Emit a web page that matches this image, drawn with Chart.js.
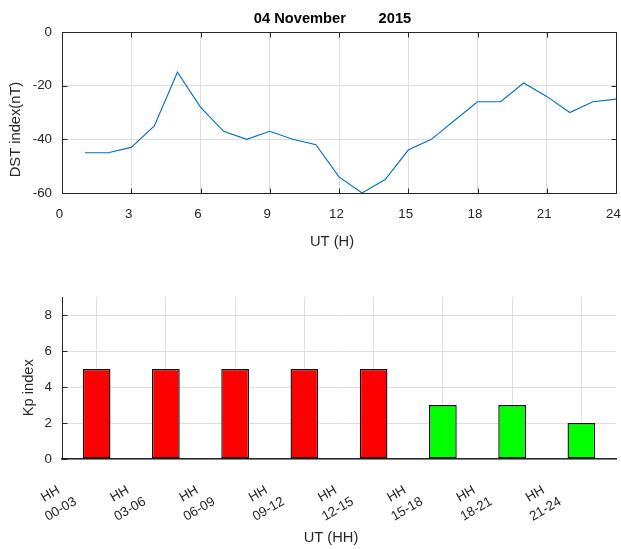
<!DOCTYPE html>
<html>
<head>
<meta charset="utf-8">
<title>Dst and Kp indices, 04 November 2015</title>
<script src="https://cdn.jsdelivr.net/npm/chart.js@4.4.1/dist/chart.umd.min.js"></script>
<style>
  html, body { margin: 0; padding: 0; background: #ffffff; }
  #wrap { position: relative; width: 621px; height: 549px; overflow: hidden; background: #ffffff; }
  #wrap canvas { position: absolute; left: 0; }
</style>
</head>
<body>
<div id="wrap">
  <canvas id="dstChart" width="621" height="270" style="top:0px"></canvas>
  <canvas id="kpChart" width="621" height="279" style="top:270px"></canvas>
</div>
<script>
// Hourly Dst index (nT) for the day
const dstHours  = [1, 2, 3, 4, 5, 6, 7, 8, 9, 10, 11, 12, 13, 14, 15, 16, 17, 18, 19, 20, 21, 22, 23, 24];
const dstValues = [-45, -45, -43, -35, -15, -28, -37, -40, -37, -40, -42, -54, -60, -55, -44, -40, -33, -26, -26, -19, -24, -30, -26, -25];

// Three-hourly Kp index
const kpRanges = ['00-03', '03-06', '06-09', '09-12', '12-15', '15-18', '18-21', '21-24'];
const kpValues = [5, 5, 5, 5, 5, 3, 3, 2];

// Text
const dayTitle   = '04 November        2015';
const dstYLabel  = 'DST index(nT)';
const dstXLabel  = 'UT (H)';
const kpYLabel   = 'Kp index';
const kpXLabel   = 'UT (HH)';
const kpTickHead = 'HH';

const FONT = '"Liberation Sans", Arial, Helvetica, sans-serif';
const AXIS_COLOR = '#262626';
const GRID_COLOR = '#dfdfdf';
const TICK_SIZE = 13.3;
const LABEL_SIZE = 14.7;

Chart.defaults.font.family = FONT;
Chart.defaults.color = AXIS_COLOR;

// storm levels: red for Kp >= 5, yellow for 4, green below
function kpColor(v) {
  if (v >= 5) return '#ff0000';
  if (v >= 4) return '#ffff00';
  return '#00ff00';
}

const crisp = v => Math.round(v) + 0.5;

// Inward tick marks, optional closed box, and free-standing labels
const axesFrame = {
  id: 'axesFrame',
  afterDraw(chart, args, opts) {
    const { ctx, chartArea: a } = chart;
    const xs = chart.scales.x, ys = chart.scales.y;
    const L = opts.tickLen || 5;
    ctx.save();
    ctx.strokeStyle = AXIS_COLOR;
    ctx.lineWidth = 1;
    ctx.beginPath();
    const l = crisp(a.left), r = crisp(a.right), t = crisp(a.top), b = crisp(a.bottom);
    if (opts.box) {
      ctx.moveTo(l, t); ctx.lineTo(r, t); ctx.lineTo(r, b); ctx.lineTo(l, b); ctx.closePath();
    }
    if (opts.xTicks) {
      xs.ticks.forEach(tk => {
        const x = crisp(xs.getPixelForValue(tk.value));
        ctx.moveTo(x, b); ctx.lineTo(x, b - L);
        if (opts.box) { ctx.moveTo(x, t); ctx.lineTo(x, t + L); }
      });
    }
    if (opts.yTicks) {
      ys.ticks.forEach(tk => {
        const y = crisp(ys.getPixelForValue(tk.value));
        ctx.moveTo(l, y); ctx.lineTo(l + L, y);
        if (opts.box) { ctx.moveTo(r, y); ctx.lineTo(r - L, y); }
      });
    }
    ctx.stroke();

    (opts.texts || []).forEach(tx => {
      const p = tx.at(a);
      ctx.save();
      ctx.translate(p.x, p.y);
      if (tx.rot) ctx.rotate(tx.rot);
      ctx.font = (tx.bold ? 'bold ' : '') + tx.size + 'px ' + FONT;
      ctx.fillStyle = tx.color || AXIS_COLOR;
      ctx.textAlign = 'center';
      ctx.textBaseline = 'alphabetic';
      ctx.fillText(tx.text, 0, 0);
      ctx.restore();
    });
    ctx.restore();
  }
};

// Two-line, slanted category labels under the Kp bars
const slantedLabels = {
  id: 'slantedLabels',
  afterDraw(chart, args, opts) {
    if (!opts.enabled) return;
    const { ctx, chartArea: a } = chart;
    const xs = chart.scales.x;
    ctx.save();
    ctx.font = TICK_SIZE + 'px ' + FONT;
    ctx.fillStyle = AXIS_COLOR;
    ctx.textAlign = 'center';
    ctx.textBaseline = 'middle';
    chart.data.labels.forEach((lab, i) => {
      const x = xs.getPixelForValue(i);
      const lines = [[kpTickHead, -46.2, 35], [lab, -35.8, 50.2]];
      lines.forEach(([txt, dx, dy]) => {
        ctx.save();
        ctx.translate(x + dx, a.bottom + dy);
        ctx.rotate(-Math.PI / 6);
        ctx.fillText(txt, 0, 0);
        ctx.restore();
      });
    });
    ctx.restore();
  }
};

const tickFont = { size: TICK_SIZE };

// ---- Dst line chart ----
new Chart(document.getElementById('dstChart'), {
  type: 'line',
  data: {
    datasets: [{
      data: dstHours.map((h, i) => ({ x: h, y: dstValues[i] })),
      borderColor: '#0072BD',
      borderWidth: 1.1,
      pointRadius: 0,
      fill: false,
      tension: 0
    }]
  },
  options: {
    responsive: false,
    animation: false,
    devicePixelRatio: 1,
    layout: { padding: { top: 32, right: 5, bottom: 0, left: 0 } },
    plugins: {
      legend: { display: false },
      tooltip: { enabled: false },
      slantedLabels: { enabled: false },
      axesFrame: {
        box: true, xTicks: true, yTicks: true, tickLen: 5,
        texts: [
          { text: dayTitle, bold: true, size: LABEL_SIZE, color: '#000000',
            at: a => ({ x: (a.left + a.right) / 2 - 6.5, y: a.top - 9.3 }) },
          { text: dstYLabel, size: LABEL_SIZE, rot: -Math.PI / 2,
            at: a => ({ x: 20, y: a.top + 97.5 }) },
          { text: dstXLabel, size: LABEL_SIZE,
            at: a => ({ x: (a.left + a.right) / 2 - 7, y: a.bottom + 52.7 }) }
        ]
      }
    },
    scales: {
      x: {
        type: 'linear', min: 0, max: 24,
        ticks: { stepSize: 3, padding: 13, labelOffset: -2.5, font: tickFont, maxRotation: 0, color: AXIS_COLOR },
        grid: { color: GRID_COLOR, drawTicks: false },
        border: { color: AXIS_COLOR },
        afterFit: s => { s.height = 77; s.paddingLeft = 0; s.paddingRight = 0; }
      },
      y: {
        min: -60, max: 0,
        ticks: { stepSize: 20, padding: 10, font: tickFont, color: AXIS_COLOR },
        grid: { color: GRID_COLOR, drawTicks: false },
        border: { color: AXIS_COLOR },
        afterFit: s => { s.width = 62; s.paddingTop = 0; s.paddingBottom = 0; }
      }
    }
  },
  plugins: [axesFrame, slantedLabels]
});

// ---- Kp bar chart ----
new Chart(document.getElementById('kpChart'), {
  type: 'bar',
  data: {
    labels: kpRanges,
    datasets: [{
      data: kpValues,
      backgroundColor: kpValues.map(kpColor),
      borderColor: '#111111',
      borderWidth: 1.4,
      borderSkipped: false,
      barPercentage: 0.4,
      categoryPercentage: 1.0
    }]
  },
  options: {
    responsive: false,
    animation: false,
    devicePixelRatio: 1,
    layout: { padding: { top: 27, right: 5, bottom: 0, left: 0 } },
    plugins: {
      legend: { display: false },
      tooltip: { enabled: false },
      slantedLabels: { enabled: true },
      axesFrame: {
        box: false, xTicks: false, yTicks: true, tickLen: 5,
        texts: [
          { text: kpYLabel, size: LABEL_SIZE, rot: -Math.PI / 2,
            at: a => ({ x: 33, y: a.top + 90.7 }) },
          { text: kpXLabel, size: LABEL_SIZE,
            at: a => ({ x: (a.left + a.right) / 2 - 8, y: a.bottom + 83.4 }) }
        ]
      }
    },
    scales: {
      x: {
        ticks: { display: false },
        grid: { offset: false, color: GRID_COLOR, drawTicks: false },
        border: { color: AXIS_COLOR, width: 1.5 },
        afterFit: s => { s.height = 90; s.paddingLeft = 0; s.paddingRight = 0; }
      },
      y: {
        min: 0, max: 9,
        ticks: { stepSize: 2, includeBounds: false, padding: 10, font: tickFont, color: AXIS_COLOR },
        grid: { color: GRID_COLOR, drawTicks: false },
        border: { color: AXIS_COLOR },
        afterFit: s => { s.width = 62; s.paddingTop = 0; s.paddingBottom = 0; }
      }
    }
  },
  plugins: [axesFrame, slantedLabels]
});
</script>
</body>
</html>
